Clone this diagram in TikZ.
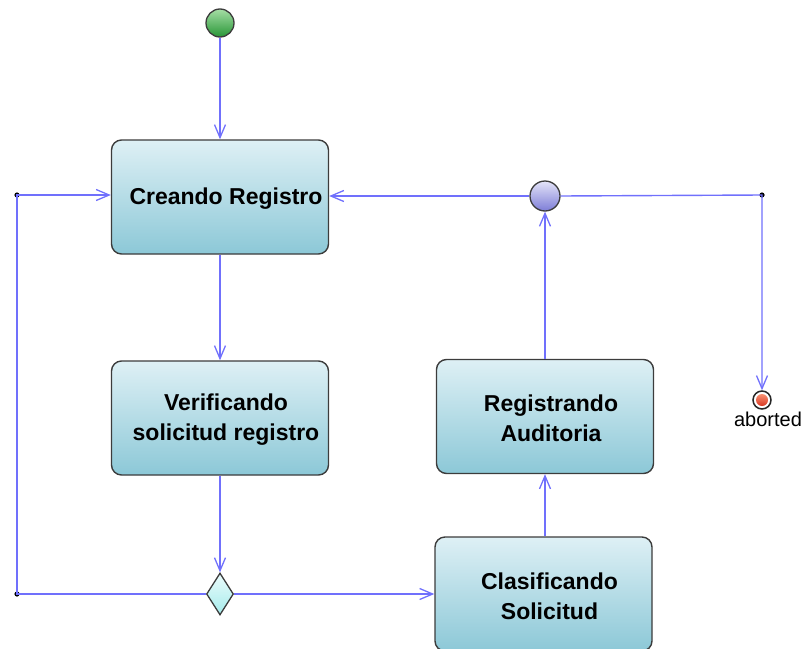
\documentclass[tikz,border=0pt]{standalone}
\usepackage{fontspec}
\setmainfont{Liberation Sans}
\usepackage{xcolor}
\usetikzlibrary{shapes,arrows.meta,positioning,calc}

\definecolor{flowblue}{RGB}{112,112,252}
\definecolor{boxtop}{RGB}{222,240,245}
\definecolor{boxbot}{RGB}{140,200,215}
\definecolor{edgegray}{RGB}{60,60,60}

% State box: the box, then its text set a little right of centre
\newcommand{\statebox}[3]{%
    \node[state] (#1) at (#2) {};
    \node[statetext] (#1txt) at ($(#1)+(6,2)$) {#3};
}

\begin{document}
\begin{tikzpicture}[
    x=1pt, y=-1pt,
    every node/.style={font=\fontsize{20}{26}\selectfont},
    state/.style={draw=edgegray, line width=1.4pt, rounded corners=10pt,
        top color=boxtop, bottom color=boxbot,
        minimum width=217pt, minimum height=114pt},
    statetext/.style={align=center, inner sep=0pt,
        font=\bfseries\fontsize{23}{30}\selectfont},
    flow/.style={draw=flowblue, line width=1.4pt,
        -{Straight Barb[length=13pt,width=11pt,line width=1.3pt]}}
]
\useasboundingbox (0,0) rectangle (811,648);

% Start and end points
\node[circle, draw=edgegray, line width=1.3pt, minimum size=28pt,
      top color={rgb,255:red,165;green,222;blue,165},
      bottom color={rgb,255:red,40;green,150;blue,55}] (start) at (220,23) {};
\node[circle, draw=edgegray, line width=1.3pt, minimum size=30pt,
      top color={rgb,255:red,228;green,228;blue,248},
      bottom color={rgb,255:red,125;green,125;blue,215}] (merge) at (545,196) {};
\node[circle, draw=black!85, fill=white, line width=1.5pt, minimum size=18pt] (aborted) at (762,400) {};
\node[circle, inner sep=0pt, minimum size=12pt,
      top color={rgb,255:red,250;green,145;blue,115},
      bottom color={rgb,255:red,215;green,55;blue,35}] (abortedin) at (aborted) {};
\node (abortlbl) at (768,419) {aborted};

% States
\statebox{creando}{220,197}{Creando Registro}
\statebox{verif}{220,418}{Verificando\\solicitud registro}
\statebox{regis}{545,416.5}{Registrando\\Auditoria}
\statebox{clasif}{543.5,594}{Clasificando\\Solicitud}

% Decision
\node[diamond, draw=edgegray, line width=1.3pt, inner sep=0pt,
      minimum width=27pt, minimum height=42pt,
      top color={rgb,255:red,235;green,252;blue,252},
      bottom color={rgb,255:red,165;green,235;blue,235}] (dec) at (220,594) {};

% Corner points
\coordinate (cl) at (17,594);
\coordinate (cu) at (17,195);
\coordinate (cr) at (762,195);
\foreach \p in {cl,cu,cr} {
    \fill (\p) circle (2.6pt);
}

% Transitions
\draw[flow] (start) -- (creando);
\draw[flow] (creando) -- (verif);
\draw[flow] (verif) -- (dec);
\draw[flow] (dec.west) -- (cl) -- (cu) -- (cu -| creando.west);
\draw[flow] (dec.east) -- (clasif.west);
\draw[flow] (clasif.north -| regis.south) -- (regis.south);
\draw[flow] (regis) -- (merge);
\draw[flow] (merge.west) -- (merge.west -| creando.east);
\draw[flow] (merge.east) -- (cr) -- (aborted);

\end{tikzpicture}
\end{document}
